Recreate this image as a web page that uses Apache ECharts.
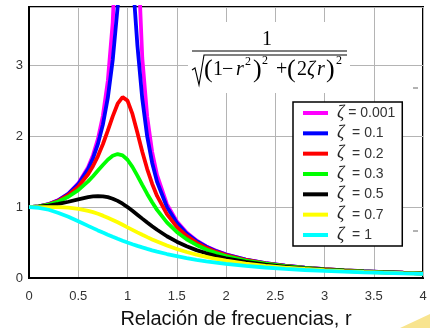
<!DOCTYPE html>
<html><head><meta charset="utf-8">
<script src="https://cdn.jsdelivr.net/npm/echarts@6/dist/echarts.min.js"></script>
<style>html,body{margin:0;padding:0;background:#fff}#c{width:430px;height:328px}</style>
</head><body><div id="c"></div>
<script>
// frequency ratio r
const r = [0,0.1,0.2,0.3,0.4,0.5,0.6,0.65,0.7,0.75,0.8,0.85,0.9,0.95,1.0,1.05,1.1,1.15,1.2,1.25,1.3,1.4,1.5,1.6,1.7,1.8,1.9,2.0,2.2,2.4,2.6,2.8,3.0,3.2,3.4,3.6,3.8,4.0];
// amplitude ratio per damping ratio
const z0001 = [1,1.010,1.042,1.099,1.190,1.333,1.563,1.732,1.961,2.286,2.778,3.604,5.263,10.26,500,9.756,4.762,3.101,2.273,1.778,1.449,1.042,0.800,0.641,0.529,0.446,0.383,0.333,0.260,0.210,0.174,0.146,0.125,0.108,0.095,0.084,0.074,0.067];
const z01 = [1,1.010,1.041,1.097,1.185,1.322,1.536,1.689,1.891,2.162,2.538,3.073,3.821,4.683,5.000,4.279,3.288,2.525,1.995,1.625,1.356,1.000,0.778,0.628,0.521,0.441,0.379,0.330,0.259,0.209,0.173,0.146,0.125,0.108,0.095,0.084,0.074,0.067];
const z02 = [1,1.009,1.038,1.090,1.170,1.288,1.463,1.579,1.719,1.885,2.076,2.279,2.457,2.549,2.500,2.313,2.051,1.780,1.536,1.329,1.157,0.900,0.721,0.593,0.498,0.425,0.368,0.322,0.254,0.206,0.171,0.144,0.124,0.107,0.094,0.083,0.074,0.066];
const z03 = [1,1.008,1.034,1.078,1.145,1.238,1.362,1.435,1.514,1.593,1.667,1.722,1.747,1.729,1.667,1.567,1.444,1.313,1.185,1.067,0.960,0.784,0.649,0.546,0.466,0.402,0.351,0.310,0.246,0.201,0.168,0.142,0.122,0.106,0.093,0.082,0.073,0.066];
const z05 = [1,1.005,1.020,1.044,1.075,1.109,1.140,1.150,1.155,1.152,1.140,1.118,1.087,1.047,1.000,0.948,0.893,0.837,0.782,0.730,0.680,0.589,0.512,0.448,0.393,0.348,0.310,0.277,0.226,0.188,0.158,0.135,0.117,0.102,0.090,0.080,0.072,0.064];
const z07 = [1,1.000,1.000,0.998,0.991,0.975,0.947,0.928,0.905,0.879,0.850,0.818,0.785,0.750,0.714,0.679,0.643,0.609,0.576,0.544,0.514,0.458,0.409,0.366,0.329,0.297,0.268,0.244,0.203,0.172,0.147,0.127,0.111,0.097,0.086,0.077,0.069,0.063];
const z1 = [1,0.990,0.962,0.917,0.862,0.800,0.735,0.703,0.671,0.640,0.610,0.581,0.553,0.526,0.500,0.476,0.453,0.431,0.410,0.390,0.372,0.338,0.308,0.281,0.257,0.236,0.217,0.200,0.171,0.148,0.129,0.113,0.100,0.089,0.080,0.072,0.065,0.059];
const zetaLabels = ['0.001','0.1','0.2','0.3','0.5','0.7','1'];
const seriesValues = [z0001,z01,z02,z03,z05,z07,z1];
const colors = ['#ff00ff','#0000ff','#ff0000','#00ff00','#000000','#ffff00','#00ffff'];
const xTitle = 'Relación de frecuencias, r';

const names = zetaLabels.map(z => 'ζ = ' + z);
const series = seriesValues.map((vals, i) => ({
  name: names[i], type: 'line', showSymbol: false, symbol: 'none',
  data: r.map((x, k) => [x, vals[k]]),
  lineStyle: {width: 3.8, color: colors[i]}, itemStyle: {color: colors[i]},
  animation: false, clip: true
}));

const serif = 'Liberation Serif';
function t(text, x, y, size, italic) {
  return {type:'text', x:x, y:y, z:20, style:{text:text, font:(italic?'italic ':'')+size+'px "'+serif+'"', fill:'#000', verticalAlign:'middle', align:'left'}};
}
const graphic = [
  {type:'rect', shape:{x:188,y:22,width:162,height:71}, style:{fill:'#fff'}, z:10},
  t('1', 262, 40, 20, false),
  {type:'line', shape:{x1:192,y1:51,x2:347,y2:51}, style:{stroke:'#000', lineWidth:1.2}, z:20},
  {type:'polyline', shape:{points:[[192,70],[195,68],[199,85],[204,55],[347,55]]}, style:{stroke:'#000', lineWidth:1.1, fill:null}, z:20},
  t('(', 204, 70, 26, false),
  t('1', 213, 70, 20, false),
  t('\u2212', 222, 70, 20, false),
  t('r', 236, 70, 20, true),
  t('2', 245, 62, 12, false),
  t(')', 253, 70, 26, false),
  t('2', 262, 61, 12, false),
  t('+', 276, 70, 20, false),
  t('(', 287, 70, 26, false),
  t('2', 297, 70, 20, false),
  t('ζ', 307, 70, 20, true),
  t('r', 317, 70, 20, true),
  t(')', 326, 70, 26, false),
  t('2', 336, 61, 12, false),
  {type:'line', shape:{x1:413,y1:88,x2:418,y2:88}, style:{stroke:'#666', lineWidth:1}, z:20},
  {type:'line', shape:{x1:413,y1:231,x2:418,y2:231}, style:{stroke:'#666', lineWidth:1}, z:20},
  {type:'polygon', shape:{points:[[400,328],[430,314],[430,328]]}, style:{fill:'#f8e48f'}, z:20}
];

const chart = echarts.init(document.getElementById('c'));
chart.setOption({
  animation: false,
  backgroundColor: '#fff',
  grid: {left:29, right:7, top:7, bottom:50, containLabel:false, outerBoundsMode:'none',
    show:true, borderColor:'#000', borderWidth:2, backgroundColor:'transparent'},
  xAxis: {
    type:'value', min:0, max:4, interval:0.5,
    axisLine:{show:true, onZero:false, lineStyle:{color:'#000', width:2}},
    axisTick:{show:false},
    axisLabel:{color:'#333', fontSize:13, margin:12, fontFamily:'Liberation Sans'},
    splitLine:{show:true, lineStyle:{color:'#b4b4b4', width:1}},
    name: xTitle, nameLocation:'middle', nameGap:31,
    nameTextStyle:{color:'#111', fontSize:20, fontFamily:'Liberation Sans', padding:[0,0,0,20]}
  },
  yAxis: {
    type:'value', min:0, max:3.82, interval:1,
    axisLine:{show:true, lineStyle:{color:'#000', width:2}},
    axisTick:{show:false},
    axisLabel:{color:'#333', fontSize:13, margin:6, fontFamily:'Liberation Sans', showMaxLabel:false,
      formatter: v => (Math.abs(v - Math.round(v)) < 1e-6 ? String(Math.round(v)) : '')},
    splitLine:{show:true, lineStyle:{color:'#b4b4b4', width:1}}
  },
  legend: {
    orient:'vertical', left:293, top:102, padding:[2,7,2,10],
    backgroundColor:'#fff', borderColor:'#000', borderWidth:1.5,
    itemWidth:25, itemHeight:4, itemGap:2.33, icon:'rect',
    data: names,
    formatter: name => {
      const i = names.indexOf(name);
      return '{z|ζ}{s|' + (i === 0 ? ' = ' : '  = ') + zetaLabels[i] + '}';
    },
    textStyle: {
      rich: {
        z: {fontFamily:serif, fontStyle:'italic', fontSize:18, color:'#222', lineHeight:16, padding:[0,0,0,4]},
        s: {fontFamily:'Liberation Sans', fontSize:14, color:'#333', lineHeight:16}
      }
    }
  },
  graphic: graphic,
  series: series
});
</script></body></html>
